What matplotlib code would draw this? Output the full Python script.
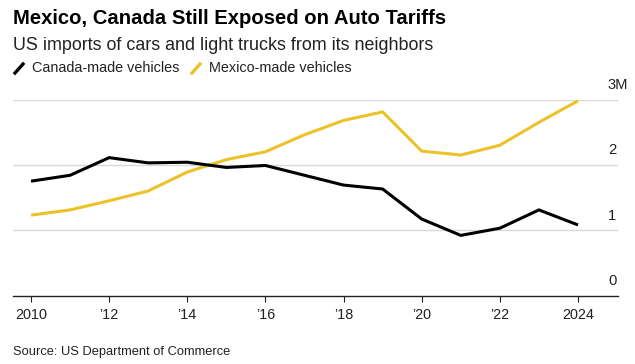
import matplotlib
matplotlib.use("Agg")
import matplotlib.pyplot as plt
from matplotlib.lines import Line2D

years = list(range(2010, 2025))
canada = [1.75, 1.84, 2.11, 2.03, 2.04, 1.96, 1.99, 1.84, 1.69, 1.63, 1.17, 0.92, 1.03, 1.31, 1.08]
mexico = [1.23, 1.31, 1.45, 1.60, 1.89, 2.08, 2.20, 2.46, 2.68, 2.81, 2.21, 2.15, 2.30, 2.65, 2.98]
xticks = [2010, 2012, 2014, 2016, 2018, 2020, 2022, 2024]
xticklabels = ["2010", "\u201912", "\u201914", "\u201916", "\u201918", "\u201920", "\u201922", "2024"]
yticks = [0, 1, 2, 3]
yticklabels = ["0", "1", "2", "3M"]

title = "Mexico, Canada Still Exposed on Auto Tariffs"
subtitle = "US imports of cars and light trucks from its neighbors"
legend_labels = ["Canada-made vehicles", "Mexico-made vehicles"]
source = "Source: US Department of Commerce"

BLACK = "#000000"
YELLOW = "#ecc22a"
GRID = "#d9d9d9"
TEXT = "#222222"

plt.rcParams['font.family'] = ['Liberation Sans', 'DejaVu Sans']

W, H = 635, 364
fig = plt.figure(figsize=(W / 100, H / 100), dpi=100)

def fx(px):
    return px / W

def fy(py):
    return 1 - py / H

left, right = 13, 618
top, bottom = 99.5, 295.5
ax = fig.add_axes([fx(left), fy(bottom), fx(right - left), (bottom - top) / H])
ax.set_xlim(2009.539, 2025.024)
ax.set_ylim(0, 3)

for v in yticks[1:]:
    ax.axhline(v, color=GRID, lw=1.0, zorder=1)

ax.plot(years, mexico, color=YELLOW, lw=2.2, solid_capstyle='butt', solid_joinstyle='miter', zorder=3, clip_on=False)
ax.plot(years, canada, color=BLACK, lw=2.2, solid_capstyle='butt', solid_joinstyle='miter', zorder=4, clip_on=False)

for s in ['top', 'right', 'left']:
    ax.spines[s].set_visible(False)
ax.spines['bottom'].set_color('#222222')
ax.spines['bottom'].set_linewidth(1.0)
ax.set_yticks([])
ax.set_xticks(xticks)
ax.set_xticklabels(xticklabels, fontsize=10.4, color=TEXT)
ax.tick_params(axis='x', length=4, width=0.8, color='#222222', pad=5)

for v, lab in zip(yticks, yticklabels):
    ax.annotate(lab, xy=(1, v), xycoords=('axes fraction', 'data'),
                xytext=(-7.2, 10.4), textcoords='offset points',
                ha='left', va='center', fontsize=10.6, color=TEXT)

fig.text(fx(13), fy(18), title, fontsize=14.6, fontweight='bold', color='#000000', va='center', ha='left')
fig.text(fx(13), fy(45), subtitle, fontsize=12.9, color=TEXT, va='center', ha='left')

# legend
fig.add_artist(Line2D([fx(15), fx(23)], [fy(73), fy(64)], color=BLACK, lw=2.4, transform=fig.transFigure))
fig.text(fx(32), fy(68), legend_labels[0], fontsize=10.4, color=TEXT, va='center', ha='left')
fig.add_artist(Line2D([fx(192), fx(200)], [fy(73), fy(64)], color=YELLOW, lw=2.4, transform=fig.transFigure))
fig.text(fx(209), fy(68), legend_labels[1], fontsize=10.4, color=TEXT, va='center', ha='left')

fig.text(fx(13), fy(352), source, fontsize=9.3, color=TEXT, va='center', ha='left')

fig.savefig("out.png", dpi=100)
